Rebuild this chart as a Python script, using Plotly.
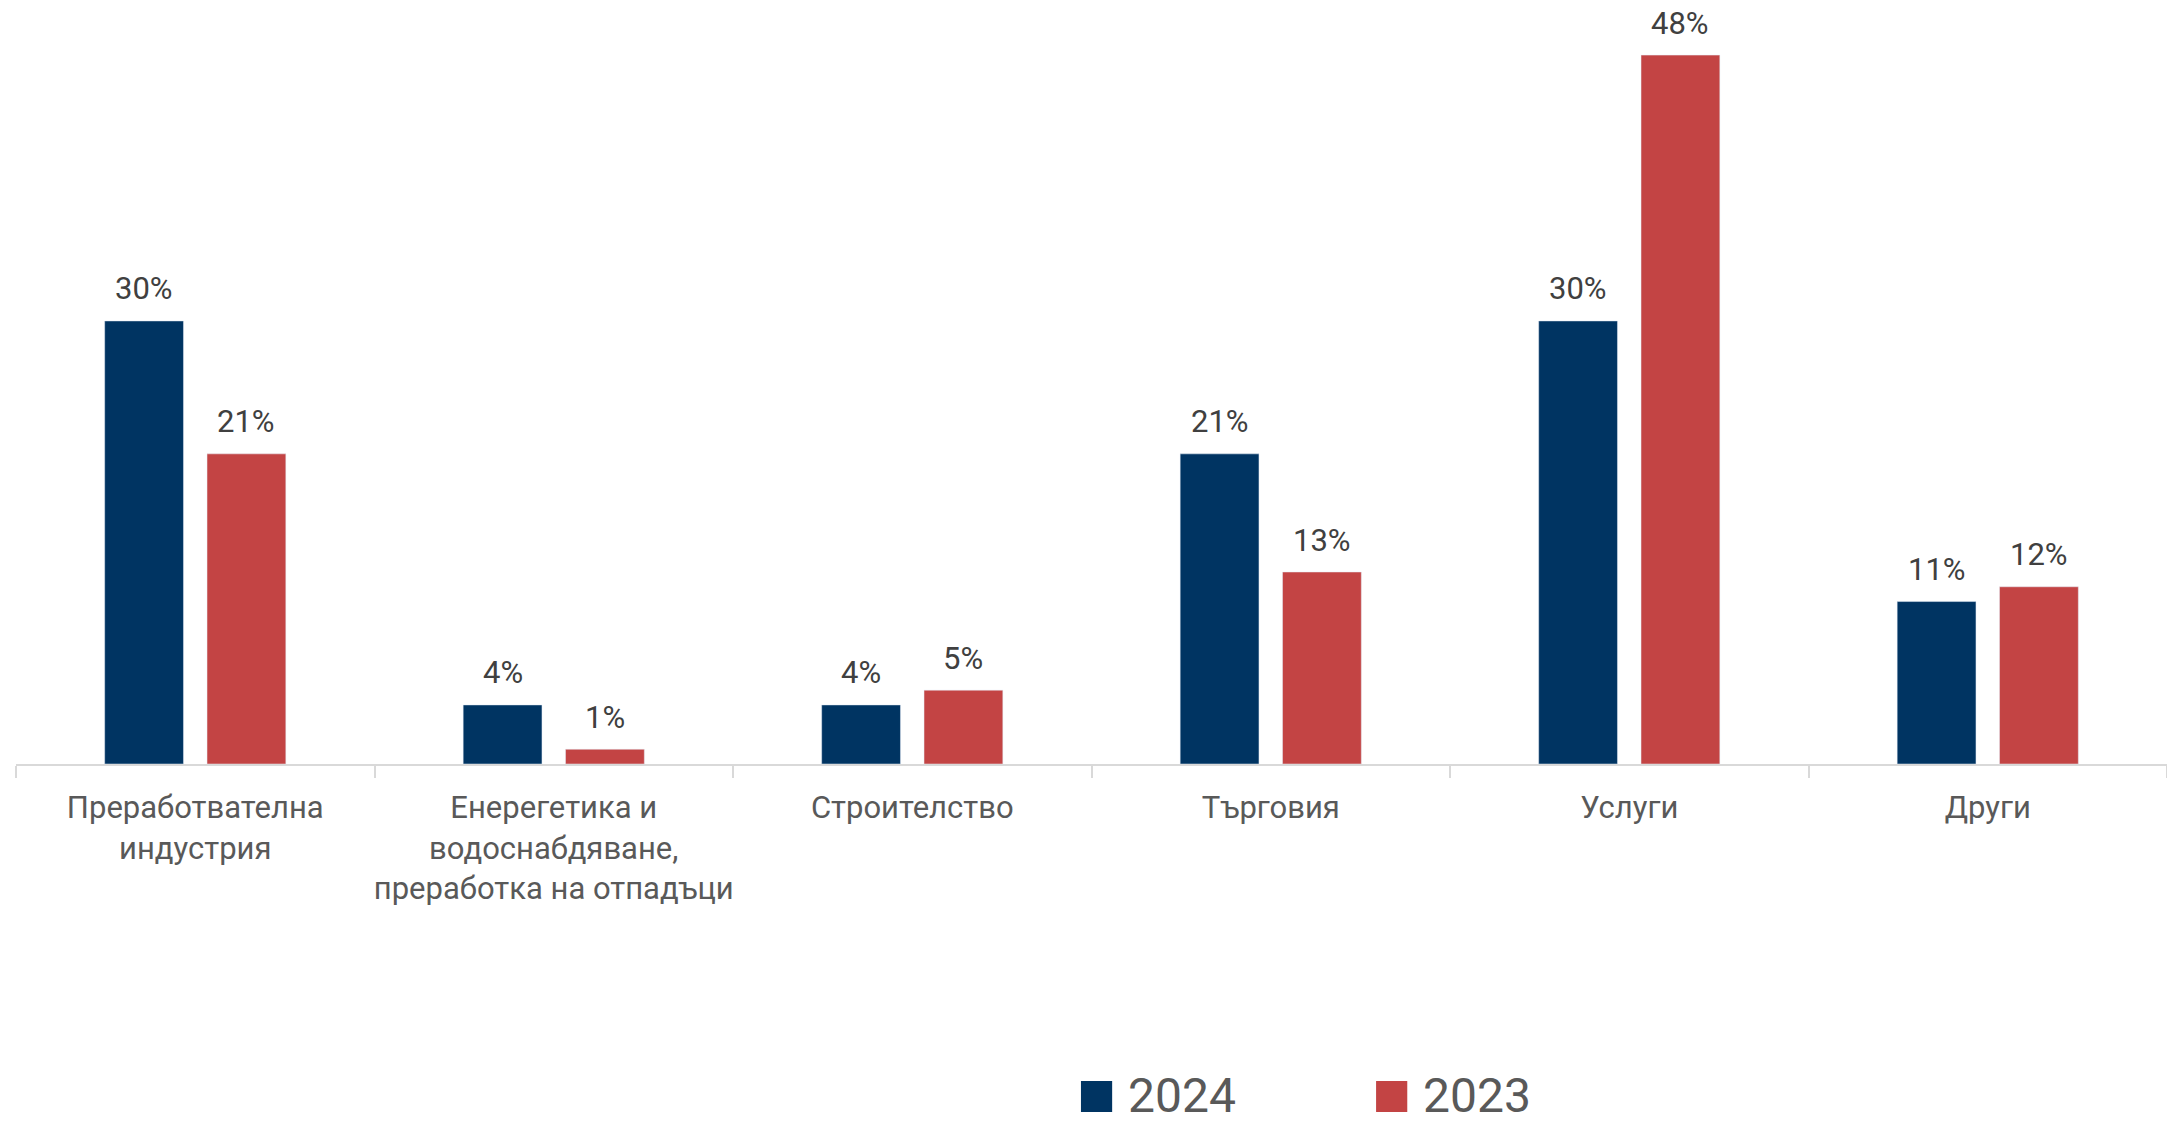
import plotly.graph_objects as go

# Sectors and shares (%) for the two years
categories = [
    "Преработвателна<br>индустрия",
    "Енерегетика и<br>водоснабдяване,<br>преработка на отпадъци",
    "Строителство",
    "Търговия",
    "Услуги",
    "Други",
]
values_2024 = [30, 4, 4, 21, 30, 11]
values_2023 = [21, 1, 5, 13, 48, 12]
series_names = ["2024", "2023"]

BLUE = "#003462"
RED = "#C34444"
FONT = "Roboto"

fig = go.Figure()
fig.add_trace(go.Bar(x=categories, y=values_2024, name=series_names[0], marker_color=BLUE))
fig.add_trace(go.Bar(x=categories, y=values_2023, name=series_names[1], marker_color=RED))

# value labels above the bars
annotations = []
for vals, shift in ((values_2024, -51), (values_2023, 51)):
    for cat, v in zip(categories, vals):
        annotations.append(dict(
            x=cat, y=v, xref="x", yref="y", text=f"{v}%", showarrow=False,
            xshift=shift, yshift=32, yanchor="middle", borderpad=0,
            font=dict(family=FONT, size=31, color="#404040"),
        ))

# hand-drawn legend (large square swatches)
shapes = []
for name, color, x0 in ((series_names[0], BLUE, 0.4951), (series_names[1], RED, 0.6323)):
    shapes.append(dict(type="rect", xref="paper", yref="paper",
                       x0=x0, x1=x0 + 0.0145, y0=-0.4741, y1=-0.4319,
                       fillcolor=color, line=dict(width=0)))
    annotations.append(dict(x=x0 + 0.0212, y=-0.4523, xref="paper", yref="paper",
                            text=name, showarrow=False, xanchor="left", yanchor="middle",
                            borderpad=0,
                            font=dict(family=FONT, size=48, color="#595959")))

fig.update_layout(
    width=2167, height=1126,
    margin=dict(l=16, r=0, t=30, b=362),
    paper_bgcolor="white", plot_bgcolor="white",
    barmode="group", bargap=0.429, bargroupgap=0.23,
    showlegend=False,
    font=dict(family=FONT, color="#595959"),
    annotations=annotations, shapes=shapes,
)
fig.update_xaxes(
    showline=True, linecolor="#d9d9d9", linewidth=2,
    ticks="outside", tickson="boundaries", ticklen=12, tickcolor="#d9d9d9", tickwidth=2,
    tickfont=dict(family=FONT, size=31, color="#595959"),
    tickangle=0, ticklabelstandoff=15,
    showgrid=False,
)
fig.update_yaxes(range=[0, 49.7], visible=False, showgrid=False)

# drop the default 8px page margin so the figure fills the window exactly
fig.write_html("out.html", config={"displayModeBar": False},
               post_script="document.body.style.margin='0';")
